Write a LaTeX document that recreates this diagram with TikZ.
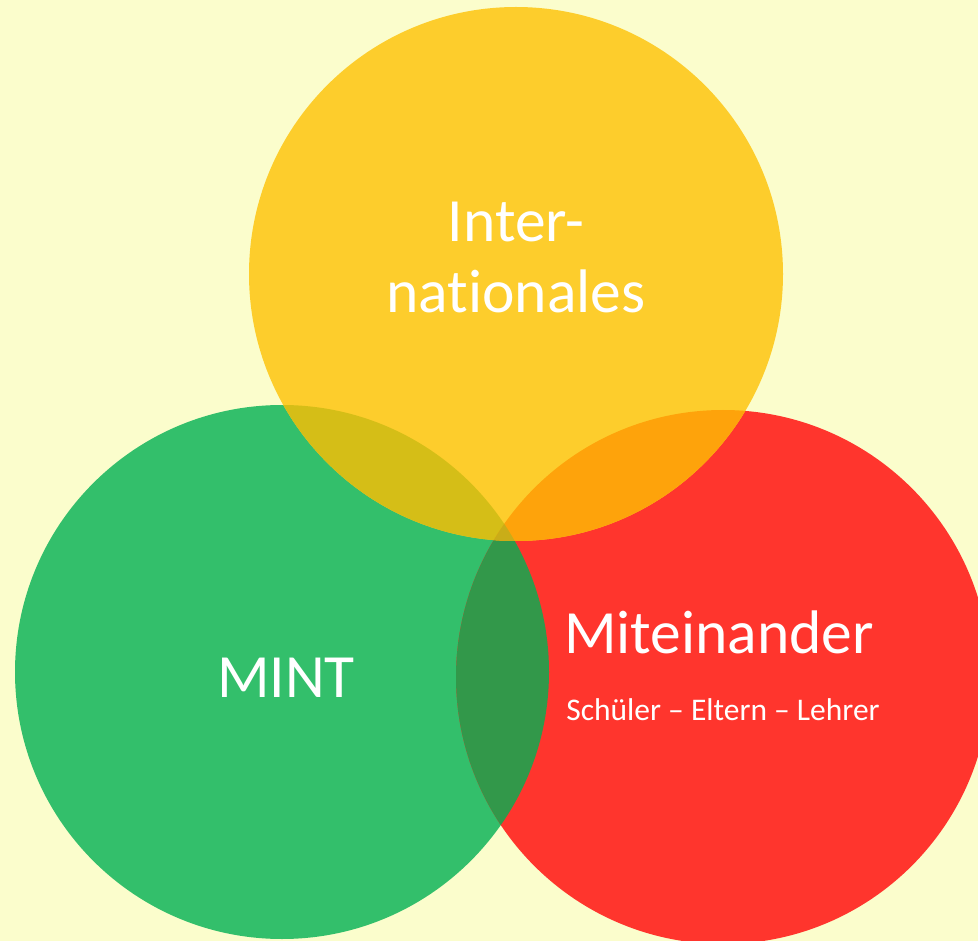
\documentclass[tikz,border=0pt]{standalone}
\usepackage{fontspec}
\setmainfont{Carlito}[Ligatures={NoCommon}]
\usepackage{tikz}
\usetikzlibrary{positioning,calc}
\definecolor{bgyellow}{HTML}{FBFDCC}
\definecolor{circgreen}{HTML}{33BF6B}
\definecolor{circred}{HTML}{FF352D}
\definecolor{circyellow}{HTML}{FDCD2C}
\definecolor{mixgy}{HTML}{D5BE17}
\definecolor{mixry}{HTML}{FEA30B}
\definecolor{mixgr}{HTML}{32984A}
\definecolor{mixall}{HTML}{C9AD18}
\tikzset{
    bigtext/.style={text=white, anchor=base, inner sep=0pt, font=\fontsize{61.5}{72}\selectfont},
    smalltext/.style={text=white, anchor=base, inner sep=0pt, font=\fontsize{31.5}{37}\selectfont}
}

\begin{document}
\begin{tikzpicture}[x=1pt,y=-1pt]
        % Draw background
        \useasboundingbox (0,0) rectangle (978,941);
        \clip (0,0) rectangle (978,941);
        \fill[bgyellow] (0,0) rectangle (978,941);
        % Draw circles
        \coordinate (cgreen) at (282,672);
        \coordinate (cred) at (723,677);
        \coordinate (cyellow) at (516,274);
        \fill[circgreen] (cgreen) circle (267pt);
        \fill[circred] (cred) circle (267pt);
        \fill[circyellow] (cyellow) circle (267pt);
        % Draw overlaps
        \begin{scope}
            \clip (cgreen) circle (267pt);
            \fill[mixgr] (cred) circle (267pt);
            \fill[mixgy] (cyellow) circle (267pt);
        \end{scope}
        \begin{scope}
            \clip (cred) circle (267pt);
            \fill[mixry] (cyellow) circle (267pt);
            \clip (cgreen) circle (267pt);
            \fill[mixall] (cyellow) circle (267pt);
        \end{scope}
        % Draw labels
        \node[bigtext] (inter) at (516,242) {Inter-};
        \node[bigtext] (national) at (516,313) {nationales};
        \node[bigtext] (mint) at (286,697) {MINT};
        \node[bigtext] (mitein) at (719,653) {Miteinander};
        \node[smalltext] (schueler) at (723,720) {Schüler – Eltern – Lehrer};
    \end{tikzpicture}
\end{document}
